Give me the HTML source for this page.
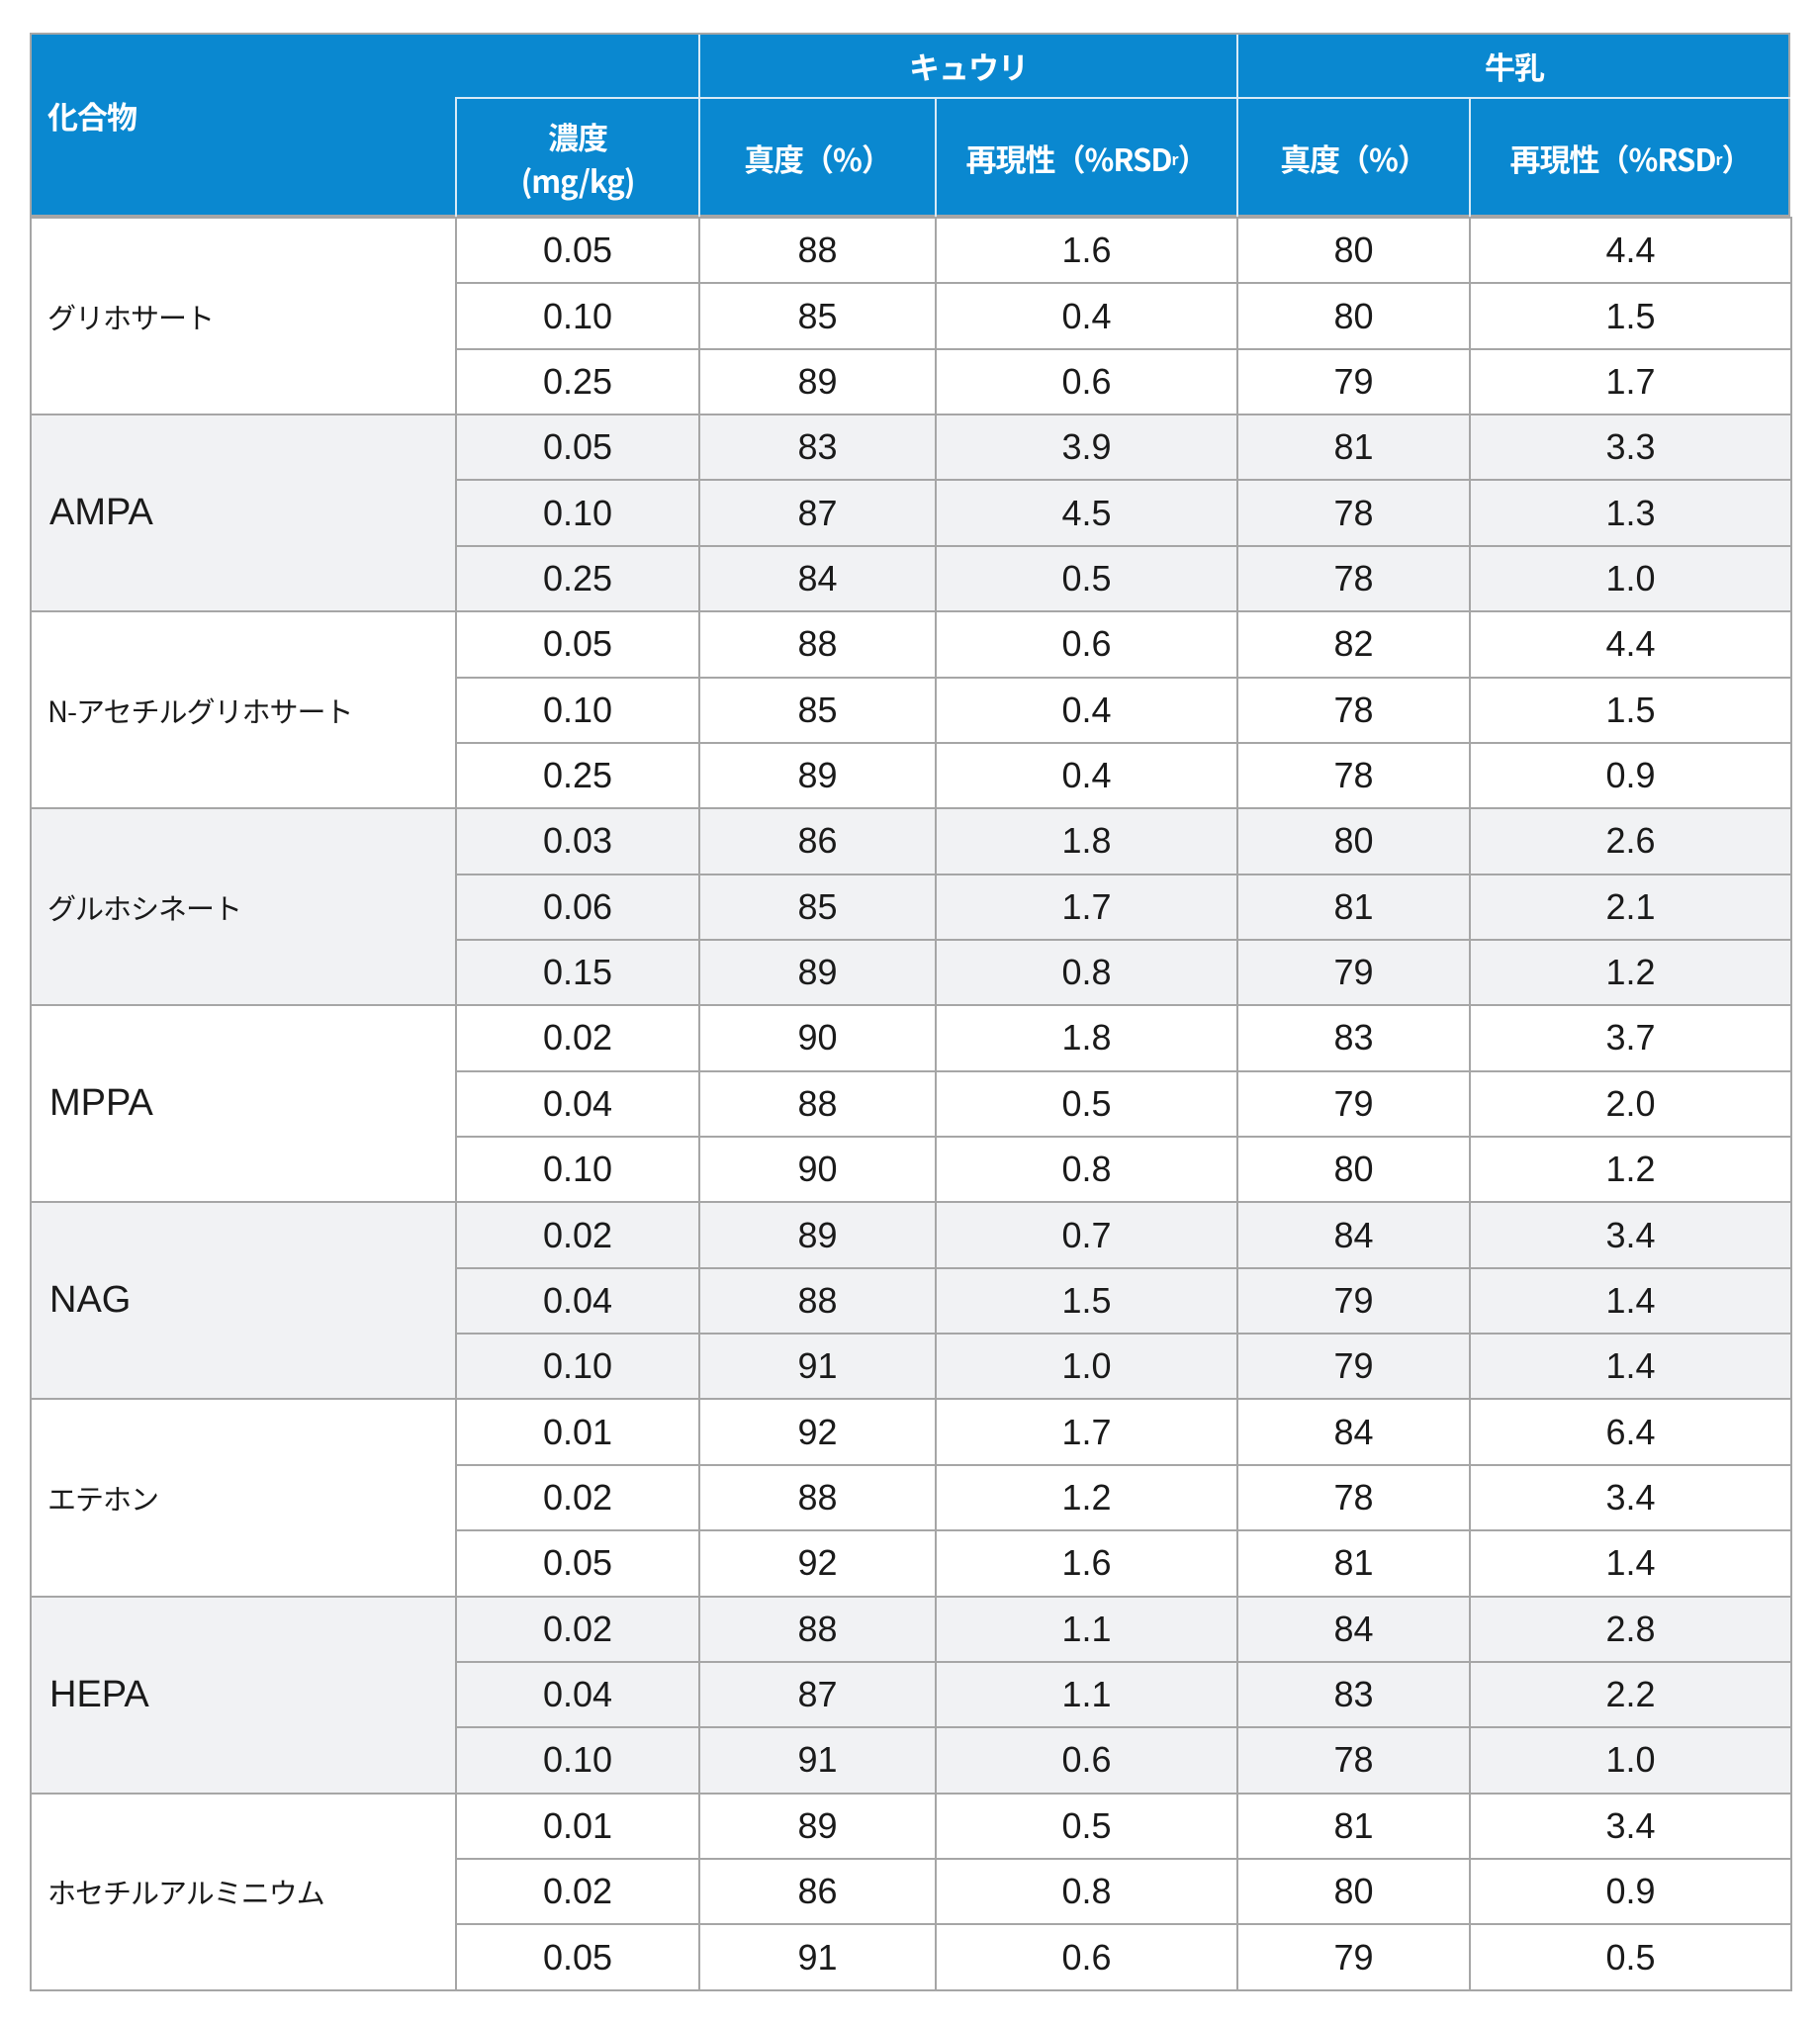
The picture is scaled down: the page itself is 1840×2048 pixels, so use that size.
<!DOCTYPE html>
<html><head><meta charset="utf-8">
<style>
html,body{margin:0;padding:0;background:#fff;width:1840px;height:2048px;overflow:hidden;position:relative}
#hdr{position:absolute;left:30px;top:33px;width:1780px;height:187px;background:#0a88d0;box-sizing:border-box;border:2px solid #a6a6a6;border-bottom-width:3px}
.hl{position:absolute;background:#d8eaf6}
.ht{position:absolute;color:#fff;font-family:"Noto Sans CJK JP","Liberation Sans",sans-serif;font-weight:bold;font-size:31px;letter-spacing:-1px;text-align:center;line-height:44px;display:flex;align-items:center;justify-content:center}
table{position:absolute;left:30px;top:219px;border-collapse:collapse;table-layout:fixed;font-family:"Liberation Sans","Noto Sans CJK JP",sans-serif;width:1780px}
td{border:2px solid #a6a6a6;padding:0;text-align:center;color:#1a1a1a;font-size:36px;height:64px;box-sizing:border-box}
tr{height:66.37px}
td.name{text-align:left;padding-left:18px;font-size:38px}
td.jp{font-family:"Noto Sans CJK JP",sans-serif;font-size:29px;letter-spacing:-1px;padding-left:16px}
tr.g td{background:#f1f2f4}
sub{font-size:16px}
</style></head><body>
<div id="hdr">
 <div class="hl" style="left:428px;top:63px;width:1350px;height:2px"></div>
 <div class="hl" style="left:428px;top:63px;width:2px;height:122px"></div>
 <div class="hl" style="left:674px;top:0;width:2px;height:185px"></div>
 <div class="hl" style="left:913px;top:63px;width:2px;height:122px"></div>
 <div class="hl" style="left:1218px;top:0;width:2px;height:185px"></div>
 <div class="hl" style="left:1453px;top:63px;width:2px;height:122px"></div>
 <div class="ht" style="left:16px;top:60px;width:200px;height:44px;justify-content:flex-start">化合物</div>
 <div class="ht" style="left:676px;top:0;width:542px;height:63px">キュウリ</div>
 <div class="ht" style="left:1220px;top:0;width:558px;height:63px">牛乳</div>
 <div class="ht" style="left:430px;top:65px;width:244px;height:120px">濃度<br>(mg/kg)</div>
 <div class="ht" style="left:676px;top:65px;width:237px;height:120px">真度（%）</div>
 <div class="ht" style="left:915px;top:65px;width:303px;height:120px">再現性（%RSD<sub>r</sub>）</div>
 <div class="ht" style="left:1220px;top:65px;width:233px;height:120px">真度（%）</div>
 <div class="ht" style="left:1455px;top:65px;width:323px;height:120px">再現性（%RSD<sub>r</sub>）</div>
</div>
<table>
<colgroup><col style="width:430px"><col style="width:246px"><col style="width:239px"><col style="width:305px"><col style="width:235px"><col style="width:325px"></colgroup>
<tbody id="tb"></tbody>
</table>
<script>
const compounds=["グリホサート","AMPA","N-アセチルグリホサート","グルホシネート","MPPA","NAG","エテホン","HEPA","ホセチルアルミニウム"];
const jpNames=[true,false,true,true,false,false,true,false,true];
const concs=["0.05","0.10","0.25","0.05","0.10","0.25","0.05","0.10","0.25","0.03","0.06","0.15","0.02","0.04","0.10","0.02","0.04","0.10","0.01","0.02","0.05","0.02","0.04","0.10","0.01","0.02","0.05"];
const cucAcc=[88,85,89,83,87,84,88,85,89,86,85,89,90,88,90,89,88,91,92,88,92,88,87,91,89,86,91];
const cucRsd=["1.6","0.4","0.6","3.9","4.5","0.5","0.6","0.4","0.4","1.8","1.7","0.8","1.8","0.5","0.8","0.7","1.5","1.0","1.7","1.2","1.6","1.1","1.1","0.6","0.5","0.8","0.6"];
const milkAcc=[80,80,79,81,78,78,82,78,78,80,81,79,83,79,80,84,79,79,84,78,81,84,83,78,81,80,79];
const milkRsd=["4.4","1.5","1.7","3.3","1.3","1.0","4.4","1.5","0.9","2.6","2.1","1.2","3.7","2.0","1.2","3.4","1.4","1.4","6.4","3.4","1.4","2.8","2.2","1.0","3.4","0.9","0.5"];
const tb=document.getElementById('tb');
for(let r=0;r<concs.length;r++){
 const g=Math.floor(r/3);
 const tr=document.createElement('tr');
 
 
 if(g%2==1)tr.className='g';
 if(r%3==0){const td=document.createElement('td');td.rowSpan=3;td.className='name'+(jpNames[g]?' jp':'');td.textContent=compounds[g];
  
  
  tr.appendChild(td);}
 [concs[r],cucAcc[r],cucRsd[r],milkAcc[r],milkRsd[r]].forEach(v=>{const td=document.createElement('td');td.textContent=v;
  
  
  tr.appendChild(td);});
 tb.appendChild(tr);
}
</script>
</body></html>
